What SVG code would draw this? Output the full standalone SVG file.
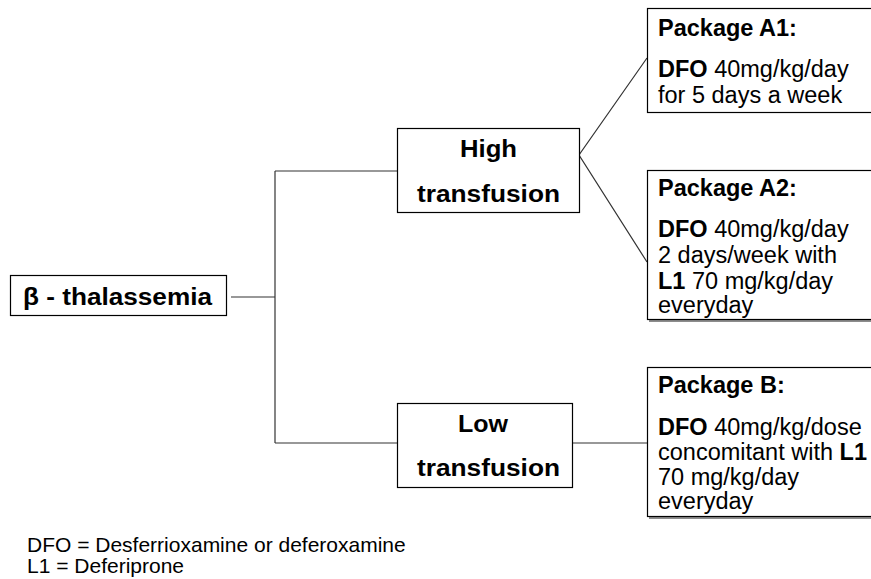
<svg xmlns="http://www.w3.org/2000/svg" width="871" height="579" viewBox="0 0 871 579">
  <style>
    .box { fill: #ffffff; stroke: #000000; stroke-width: 1.2; }
    .shadow { fill: none; stroke: #8c8c8c; stroke-width: 2; }
    .conn { fill: none; stroke: #333333; stroke-width: 1.2; }
    .title { font-family: "Liberation Sans", Arial, sans-serif; font-weight: bold; font-size: 23px; fill: #000; }
    .pk { font-family: "Liberation Sans", Arial, sans-serif; font-size: 23.5px; fill: #000; }
    .b { font-weight: bold; }
    .legend { font-family: "Liberation Sans", Arial, sans-serif; font-size: 21px; fill: #000; }
  </style>
  <rect x="0" y="0" width="871" height="579" fill="#ffffff"/>

  <g id="connectors">
    <line class="conn" x1="231" y1="297" x2="275" y2="297"/>
    <line class="conn" x1="275" y1="171" x2="275" y2="443"/>
    <line class="conn" x1="275" y1="171" x2="397" y2="171"/>
    <line class="conn" x1="275" y1="443" x2="397" y2="443"/>
    <polyline class="conn" points="647,58 579,155 647,262"/>
    <line class="conn" x1="572" y1="443" x2="647" y2="443"/>
  </g>

  <g id="node-thalassemia">
    <rect class="box" x="10.5" y="275.5" width="216" height="40"/>
    <text class="title" x="23" y="305" textLength="189" lengthAdjust="spacingAndGlyphs">β - thalassemia</text>
  </g>

  <g id="node-high">
    <rect class="box" x="397.5" y="128.5" width="182" height="84"/>
    <text class="title" x="460" y="157" textLength="57" lengthAdjust="spacingAndGlyphs">High</text>
    <text class="title" x="417" y="202" textLength="143" lengthAdjust="spacingAndGlyphs">transfusion</text>
  </g>

  <g id="node-low">
    <rect class="box" x="397.5" y="403.5" width="175" height="84"/>
    <text class="title" x="458" y="432" textLength="50" lengthAdjust="spacingAndGlyphs">Low</text>
    <text class="title" x="417" y="476" textLength="143" lengthAdjust="spacingAndGlyphs">transfusion</text>
  </g>

  <g id="node-package-a1">
    <rect class="box" x="647.5" y="8.5" width="240" height="104"/>
    <text class="pk b" x="658" y="36">Package A1:</text>
    <text class="pk" x="658" y="77"><tspan class="b">DFO</tspan> 40mg/kg/day</text>
    <text class="pk" x="658" y="103">for 5 days a week</text>
  </g>

  <g id="node-package-a2">
    <line class="shadow" x1="649" y1="321" x2="871" y2="321"/>
    <rect class="box" x="647.5" y="170.5" width="240" height="149"/>
    <text class="pk b" x="658" y="196">Package A2:</text>
    <text class="pk" x="658" y="237"><tspan class="b">DFO</tspan> 40mg/kg/day</text>
    <text class="pk" x="658" y="263">2 days/week with</text>
    <text class="pk" x="658" y="289"><tspan class="b">L1</tspan> 70 mg/kg/day</text>
    <text class="pk" x="658" y="313">everyday</text>
  </g>

  <g id="node-package-b">
    <line class="shadow" x1="649" y1="518" x2="871" y2="518"/>
    <rect class="box" x="647.5" y="367.5" width="240" height="149"/>
    <text class="pk b" x="658" y="393">Package B:</text>
    <text class="pk" x="658" y="435"><tspan class="b">DFO</tspan> 40mg/kg/dose</text>
    <text class="pk" x="658" y="460">concomitant with <tspan class="b">L1</tspan></text>
    <text class="pk" x="658" y="485">70 mg/kg/day</text>
    <text class="pk" x="658" y="509">everyday</text>
  </g>

  <g id="legend">
    <text class="legend" x="27" y="552">DFO = Desferrioxamine or deferoxamine</text>
    <text class="legend" x="27" y="573">L1 = Deferiprone</text>
  </g>
</svg>
